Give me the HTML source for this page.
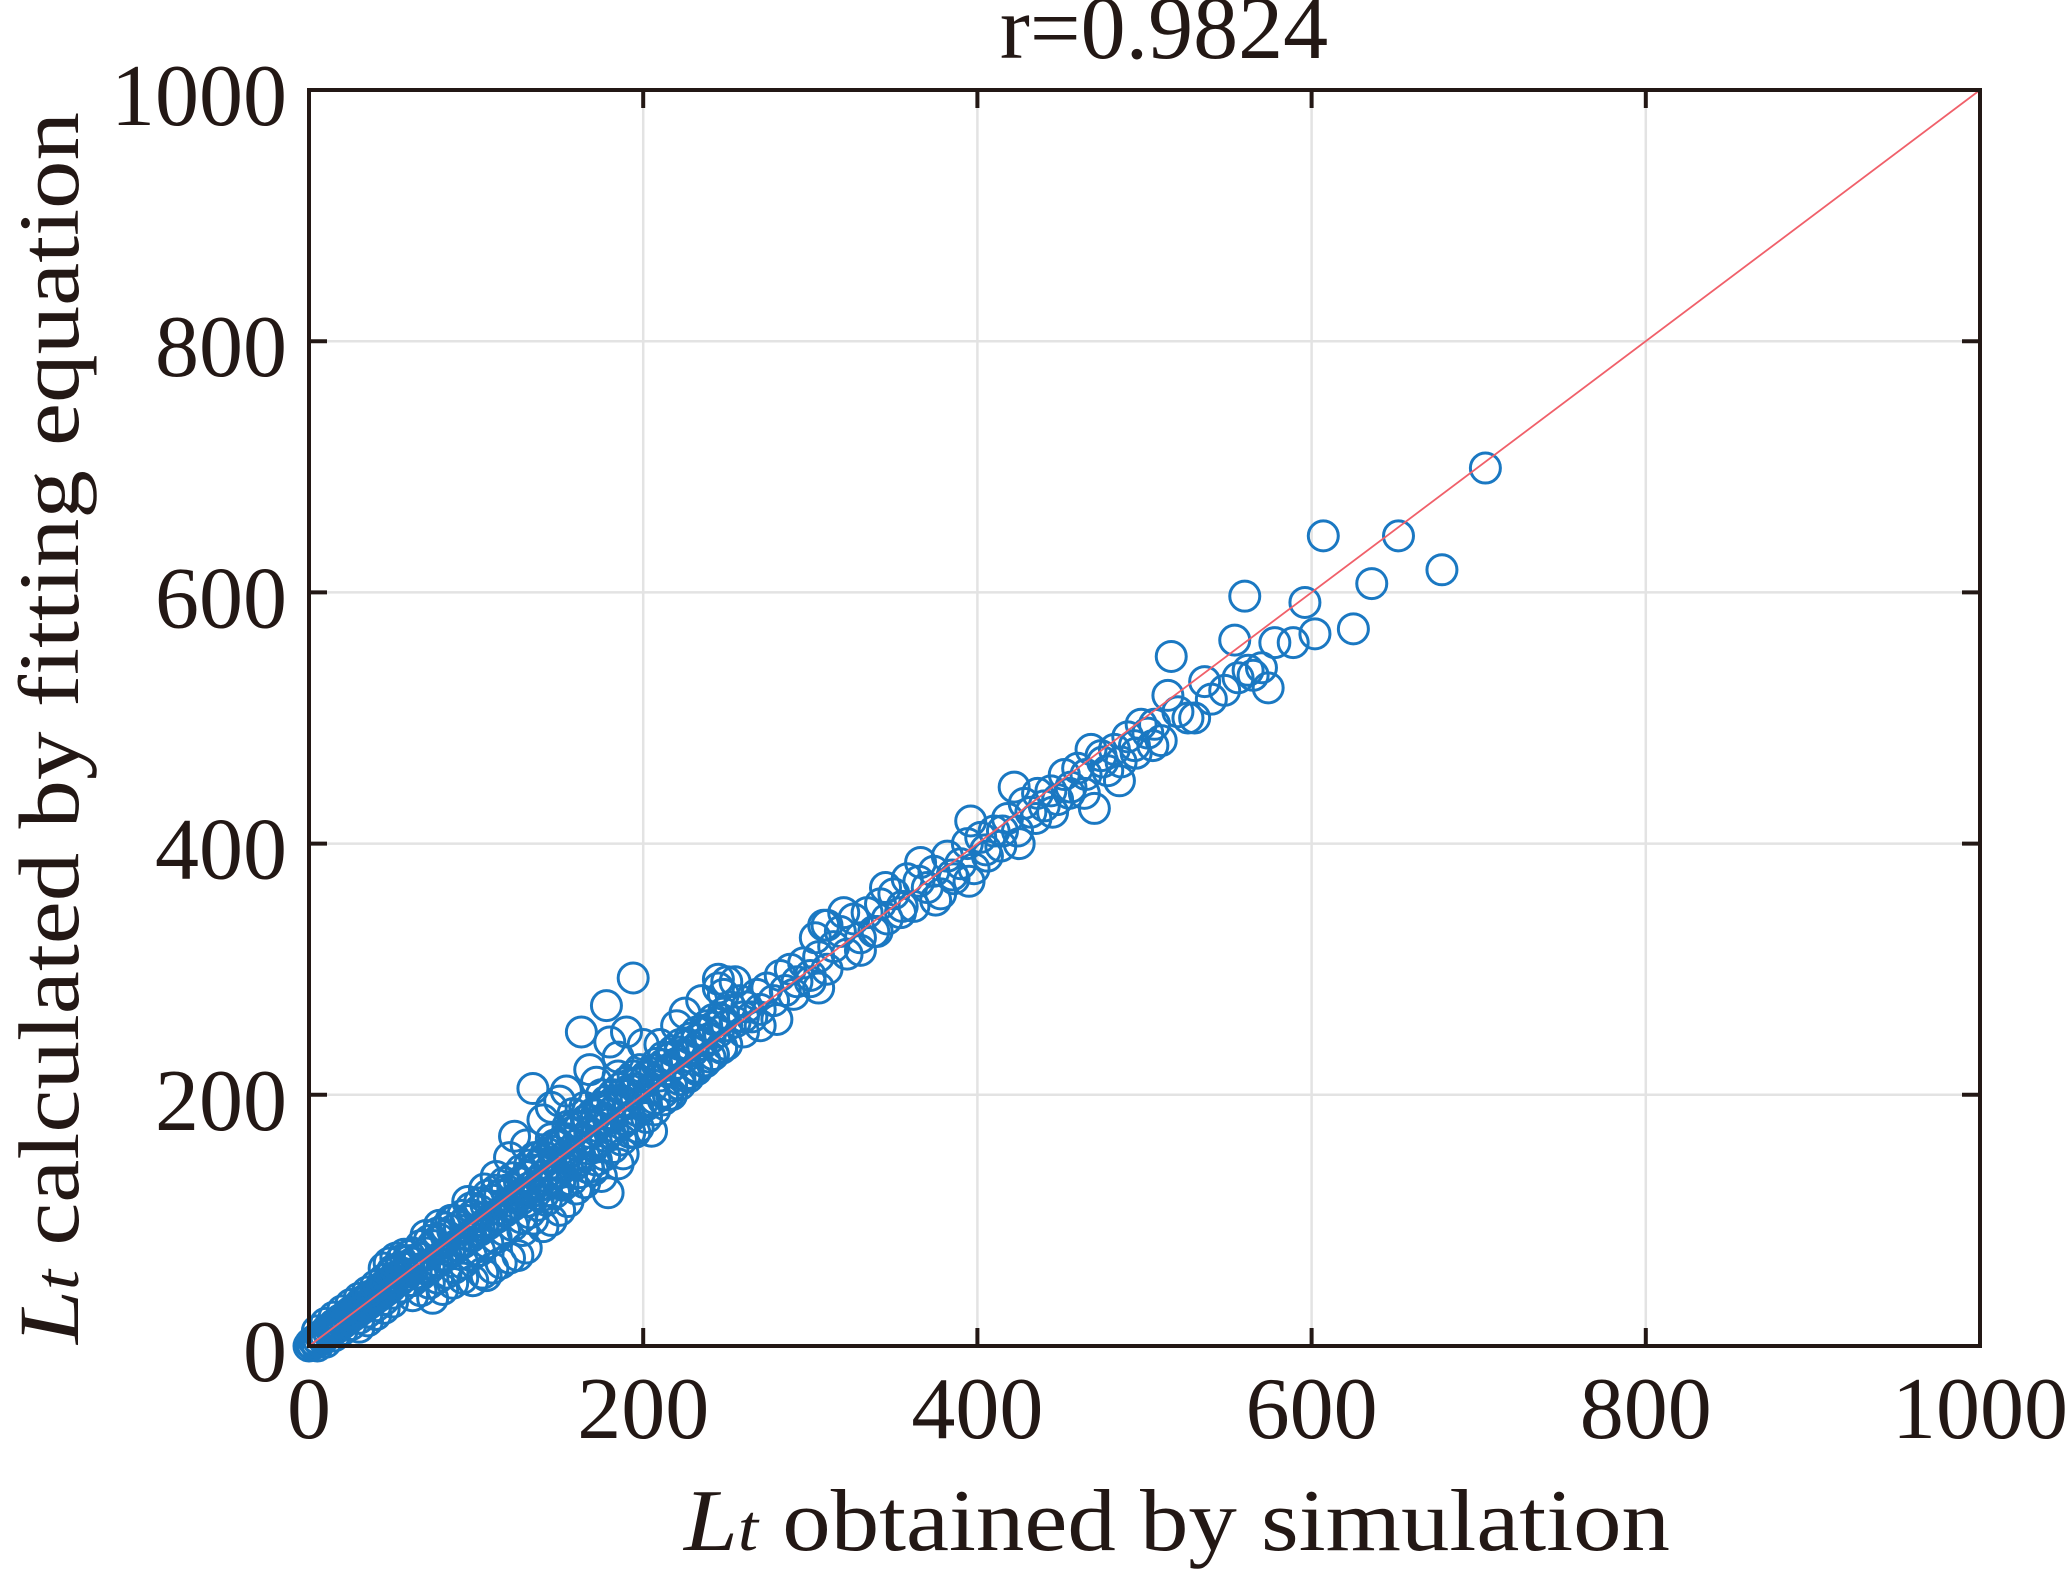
<!DOCTYPE html>
<html><head><meta charset="utf-8"><style>
html,body{margin:0;padding:0;background:#fff;}
svg{display:block;}
text{font-family:"Liberation Serif",serif;fill:#231815;}
</style></head><body>
<svg id="chart" width="2067" height="1574" viewBox="0 0 2067 1574" xmlns="http://www.w3.org/2000/svg">
<rect x="0" y="0" width="2067" height="1574" fill="#fff"/>
<g id="grid"></g>
<g id="points"></g>
<g id="fitline"></g>
<g id="axes"></g>
<g id="ticklabels"></g>
<text x="1164" y="58" font-size="90" text-anchor="middle">r=0.9824</text>
<text x="1177" y="1550" font-size="88" text-anchor="middle" textLength="986" lengthAdjust="spacingAndGlyphs"><tspan font-style="italic">L</tspan><tspan font-style="italic" font-size="66">t</tspan> obtained by simulation</text>
<text x="0" y="0" font-size="86" text-anchor="middle" textLength="1232" lengthAdjust="spacingAndGlyphs" transform="translate(78,728) rotate(-90)"><tspan font-style="italic">L</tspan><tspan font-style="italic" font-size="64">t</tspan> calculated by fitting equation</text>
</svg>
<script>
const xTicks = [0, 200, 400, 600, 800, 1000];
const yTicks = [0, 200, 400, 600, 800, 1000];
const xTickLabels = ["0", "200", "400", "600", "800", "1000"];
const yTickLabels = ["0", "200", "400", "600", "800", "1000"];
const simVals = [0,1,2,3,4,5,6,7,8,9,10,11,12,13,14,15,16,17,18,19,20,21,22,23,24,25,26,27,28,29,30,31,32,33,34,35,36,37,38,40,41,42,43,44,45,46,47,48,49,50,52,54,56,58,60,
45,48,52,55,50,57,60,30,35,40,45,50,
62,64,66,68,70,72,74,76,78,80,82,84,86,88,90,92,94,96,98,100,102,104,106,108,110,112,114,116,118,120,
74,80,86,92,98,104,106,110,115,120,125,130,134,128,140,145,150,155,160,165,170,179,175,185,188,195,205,
70,78,85,95,105,112,120,123,130,134,140,145,150,154,158,163,168,172,178,180,185,194,190,200,
122,124,126,128,130,132,134,136,138,140,142,144,146,148,150,152,154,156,158,160,162,164,166,168,170,172,174,176,178,180,182,184,186,188,190,192,194,196,198,200,202,205,208,210,212,215,218,220,222,225,228,230,232,235,238,240,242,245,248,250,252,255,258,260,
130,140,150,160,170,180,135,145,155,165,175,185,210,220,225,235,245,250,215,225,240,250,200,190,
262,265,268,270,274,278,282,285,288,292,296,300,303,305,308,310,314,318,322,326,330,334,338,342,346,350,354,358,362,366,370,374,378,382,386,390,394,396,398,402,406,410,414,418,422,424,428,432,436,440,444,448,452,456,460,464,468,470,474,478,482,486,490,494,498,502,506,510,514,516,520,526,530,536,540,548,554,556,560,562,565,570,574,578,589,596,602,607,625,636,652,678,704,
245,248,255,260,270,280,290,300,305,310,320,330,340,345,355,365,375,385,395,405,415,425,435,445,455,465,475,485,495,505,
62,67,72,77,82,87,92,97,102,107,112,117,122,127,132,137,142,147,152,157,162,167,172,177,182,187,192,197,202,207,212,217,222,227,232,237,242,247,
62,67,72,77,82,87,92,97,102,107,112,117,122,127,132,137,142,147,152,157,162,167,172,177,182,187,192,197,202,207,212,217,222,227,232,237,242,247,
62,67,72,77,82,87,92,97,102,107,112,117,122,127,132,137,142,147,152,157,162,167,172,177,182,187,192,197,202,207,212,217,222,227,232,237,242,247,
5,10,15,20,25,30,35,40,45,50,55,60,
5,10,15,20,25,30,35,40,45,50,55,60];
const fitVals = [0,2,1,4,3,6,4,8,7,10,8,13,10,14,12,17,14,18,16,21,18,22,20,25,22,27,24,29,26,31,28,34,30,36,32,38,34,40,36,42,39,45,41,47,43,49,45,51,47,53,55,52,58,56,62,
62,66,70,68,60,73,72,15,20,25,30,35,
66,58,70,62,74,65,80,68,85,72,88,76,92,80,95,84,100,88,104,92,108,96,112,100,116,104,120,108,124,112,
38,45,50,54,52,58,56,62,66,70,72,78,101,92,95,100,108,115,125,130,140,122,135,145,153,170,171,
88,96,100,115,125,135,150,167,160,205,180,190,195,203,185,250,220,210,271,242,230,293,250,240,
125,118,130,122,135,126,140,130,145,135,150,140,155,145,160,150,165,155,170,160,175,165,180,170,185,175,190,180,195,185,200,190,205,195,210,200,215,205,220,210,215,205,225,215,230,220,235,225,240,230,245,235,250,240,255,245,260,250,265,255,270,258,275,262,
115,120,130,145,160,170,150,165,175,190,200,215,240,255,265,275,285,290,200,215,230,240,195,180,
270,262,280,268,285,275,295,283,300,290,305,295,325,310,335,300,318,330,312,340,325,345,330,352,340,360,345,372,350,385,365,378,360,390,372,384,400,418,380,405,390,410,398,420,445,410,432,425,440,430,442,435,455,445,460,440,475,428,470,458,475,465,485,478,495,488,495,482,518,549,505,500,500,529,515,522,562,532,597,538,534,540,524,560,560,592,567,645,571,607,645,618,699,
292,280,290,250,255,260,280,290,285,335,345,315,330,365,350,370,355,375,370,395,410,400,420,425,440,455,465,450,472,478,
40,44,50,54,58,62,66,72,76,82,86,92,96,102,106,112,116,122,128,132,138,142,148,152,158,164,170,174,182,188,196,200,208,214,220,226,232,238,
74,80,84,90,94,100,104,110,114,120,124,130,134,140,144,150,154,160,164,170,174,180,184,190,194,200,204,210,214,220,224,230,234,240,244,250,254,260,
52,57,62,67,72,77,82,87,92,97,102,107,112,117,122,127,132,137,142,147,152,157,162,167,172,177,182,187,192,197,202,207,212,217,222,227,232,237,
0,3,8,13,17,22,27,32,37,42,47,52,
12,18,23,28,33,38,43,48,53,58,63,68];

const X0 = 309, X1 = 1980, Y0 = 1346, Y1 = 90;
function xScale(v){ return X0 + (v/1000)*(X1-X0); }
function yScale(v){ return Y0 - (v/1000)*(Y0-Y1); }
const NS = "http://www.w3.org/2000/svg";
function mk(tag, attrs){ const e=document.createElementNS(NS,tag); for(const k in attrs) e.setAttribute(k,attrs[k]); return e; }

const grid = document.getElementById('grid');
xTicks.forEach(function(t){
  if(t===0||t===1000) return;
  const l = mk('line',{x1:xScale(t),x2:xScale(t),y1:Y1,y2:Y0,stroke:'#e3e3e3','stroke-width':2.5});
  
  
  grid.appendChild(l);
});
yTicks.forEach(function(t){
  if(t===0||t===1000) return;
  const l = mk('line',{x1:X0,x2:X1,y1:yScale(t),y2:yScale(t),stroke:'#e3e3e3','stroke-width':2.5});
  
  
  grid.appendChild(l);
});

const pts = document.getElementById('points');
for(let i=0;i<simVals.length;i++){
  const c = mk('circle',{cx:xScale(simVals[i]),cy:yScale(fitVals[i]),r:15,fill:'none',stroke:'#1a78c2','stroke-width':3});
  
  
  pts.appendChild(c);
}

const fl = document.getElementById('fitline');
const rl = mk('line',{x1:xScale(0),y1:yScale(0),x2:xScale(1000),y2:yScale(1000),stroke:'#f0606a','stroke-width':1.8});


fl.appendChild(rl);

const axes = document.getElementById('axes');
const box = mk('rect',{x:X0,y:Y1,width:X1-X0,height:Y0-Y1,fill:'none',stroke:'#231815','stroke-width':4});


axes.appendChild(box);
const TL = 18;
xTicks.forEach(function(t){
  const x = xScale(t);
  const a = mk('line',{x1:x,x2:x,y1:Y0,y2:Y0-TL,stroke:'#231815','stroke-width':4});
  
  
  axes.appendChild(a);
  const b = mk('line',{x1:x,x2:x,y1:Y1,y2:Y1+TL,stroke:'#231815','stroke-width':4});
  
  
  axes.appendChild(b);
});
yTicks.forEach(function(t){
  const y = yScale(t);
  const a = mk('line',{x1:X0,x2:X0+TL,y1:y,y2:y,stroke:'#231815','stroke-width':4});
  
  
  axes.appendChild(a);
  const b = mk('line',{x1:X1,x2:X1-TL,y1:y,y2:y,stroke:'#231815','stroke-width':4});
  
  
  axes.appendChild(b);
});

const tl = document.getElementById('ticklabels');
xTicks.forEach(function(t,i){
  const e = mk('text',{x:xScale(t),y:1438,'font-size':88,'text-anchor':'middle'});
  e.textContent = xTickLabels[i];
  
  
  tl.appendChild(e);
});
yTicks.forEach(function(t,i){
  const e = mk('text',{x:287,y:yScale(t)+35,'font-size':88,'text-anchor':'end'});
  e.textContent = yTickLabels[i];
  
  
  tl.appendChild(e);
});
</script>
</body></html>
